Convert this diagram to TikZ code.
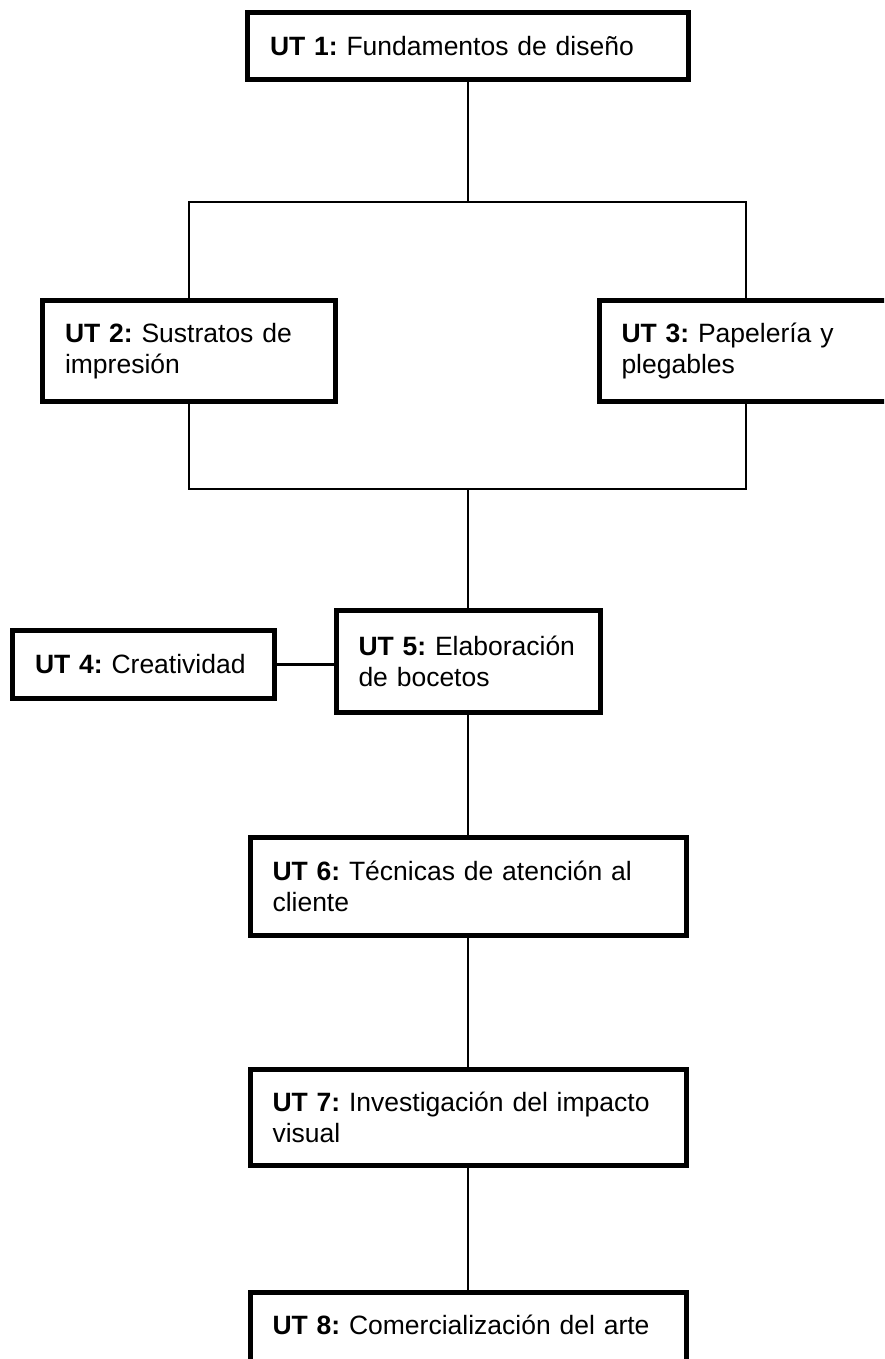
\documentclass[tikz,border=0pt]{standalone}
\usepackage{fontspec}
\setmainfont{Liberation Sans}
\frenchspacing
\begin{document}
\begin{tikzpicture}[x=1pt,y=-1pt,
  utbox/.style={draw=black, line width=5pt, inner xsep=22.5pt, inner ysep=0pt,
    align=left, fill=white, font=\fontsize{26.5}{31}\selectfont},
  conn/.style={draw=black, line width=2.6pt, line join=miter}]
\clip (0,0) rectangle (884,1359);
\fill[white] (0,0) rectangle (884,1359);
% boxes
\node[utbox, text width=396pt, minimum height=67pt] (ut1) at (468,46) {\mbox{\textbf{UT 1:} Fundamentos de diseño}};
\node[utbox, text width=248pt, minimum height=101pt] (ut2) at (189,351) {\mbox{\textbf{UT 2:} Sustratos de}\\\mbox{impresión}};
\node[utbox, text width=249pt, minimum height=101pt] (ut3) at (746,351) {\mbox{\textbf{UT 3:} Papelería y}\\\mbox{plegables}};
\node[utbox, text width=217pt, minimum height=68pt] (ut4) at (143.5,664.5) {\mbox{\textbf{UT 4:} Creatividad}};
\node[utbox, text width=219pt, minimum height=102pt] (ut5) at (468,661.5) {\mbox{\textbf{UT 5:} Elaboración}\\\mbox{de bocetos}};
\node[utbox, text width=391pt, minimum height=98pt] (ut6) at (468,886.5) {\mbox{\textbf{UT 6:} Técnicas de atención al}\\\mbox{cliente}};
\node[utbox, text width=391pt, minimum height=96pt] (ut7) at (468,1117.5) {\mbox{\textbf{UT 7:} Investigación del impacto}\\\mbox{visual}};
\node[utbox, text width=391pt, minimum height=71pt] (ut8) at (468,1328) {\raisebox{6pt}{\mbox{\textbf{UT 8:} Comercialización del arte}}};
% junctions
\coordinate (jt) at (468,202);
\coordinate (jb) at (468,489);
% connectors
\draw[conn] (ut1.south) -- (jt);
\draw[conn] (ut2.north) |- (jt) -| (ut3.north);
\draw[conn] (ut2.south) |- (jb) -| (ut3.south);
\draw[conn] (jb) -- (ut5.north);
\draw[conn] (ut4.east) -- (ut4.east -| ut5.west);
\draw[conn] (ut5.south) -- (ut5.south |- ut6.north);
\draw[conn] (ut6.south) -- (ut6.south |- ut7.north);
\draw[conn] (ut7.south) -- (ut7.south |- ut8.north);
\end{tikzpicture}
\end{document}
